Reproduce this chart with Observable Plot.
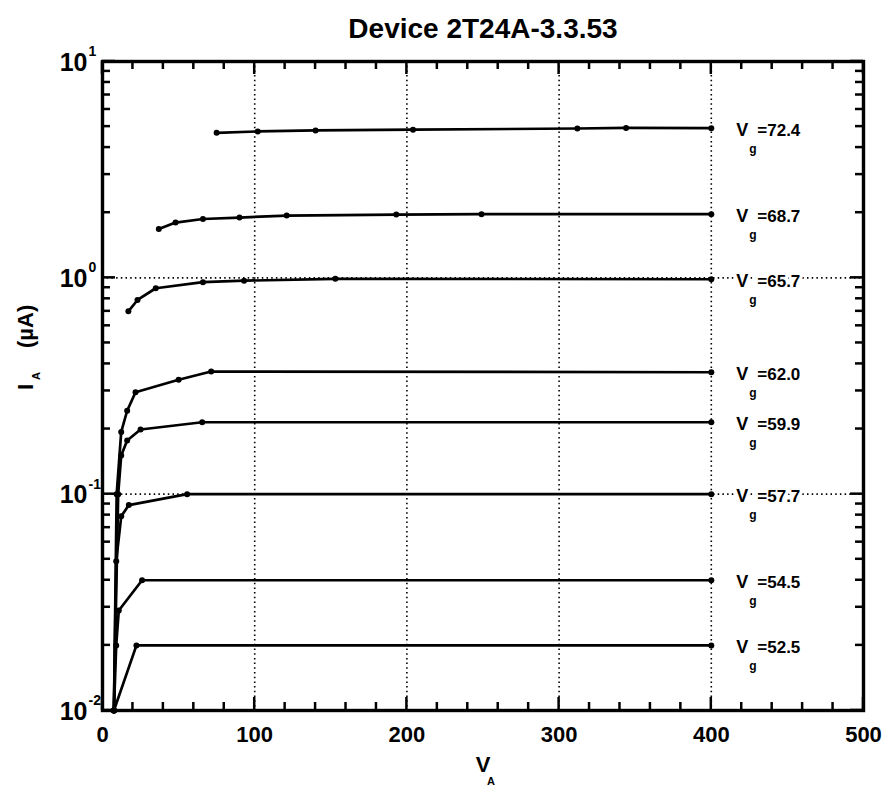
<!DOCTYPE html>
<html><head><meta charset="utf-8">
<script src="https://cdn.jsdelivr.net/npm/d3@7"></script>
<script src="https://cdn.jsdelivr.net/npm/@observablehq/plot@0.6"></script>
<style>
body{margin:0;background:#fff}
#chart svg{font-family:"Liberation Sans",Arial,Helvetica,sans-serif;display:block}
</style>
</head><body><div id="chart"></div>
<script>
const chartTitle = "Device 2T24A-3.3.53";
const gateVoltages = ["72.4","68.7","65.7","62.0","59.9","57.7","54.5","52.5"];
const anodeVoltage = [
  [75,102,140,204,312,344,400],
  [37,48,66,90,121,193,249,400],
  [17,23,35,66,93,153,400],
  [7.5,9.3,12.3,16.2,21.7,50,71.4,400],
  [7.5,10.3,12.3,16.2,25,65.5,400],
  [7.5,9,12.3,17.3,55.6,400],
  [7.5,9,10.7,26,400],
  [7.5,22.3,400]
];
const anodeCurrent = [
  [4.68,4.75,4.8,4.84,4.9,4.93,4.92],
  [1.68,1.8,1.87,1.9,1.94,1.96,1.97,1.97],
  [0.70,0.79,0.895,0.955,0.97,0.99,0.985],
  [0.01,0.1,0.194,0.243,0.296,0.338,0.369,0.366],
  [0.01,0.1,0.151,0.177,0.199,0.215,0.215],
  [0.01,0.049,0.079,0.089,0.1,0.1],
  [0.01,0.02,0.029,0.04,0.04],
  [0.01,0.02,0.02]
];
const xTickValues = [0,100,200,300,400,500];
const xMinorTickValues = [20,40,60,80,120,140,160,180,220,240,260,280,320,340,360,380,420,440,460,480];
const yDecades = [0.01,0.1,1,10];
const yExponents = ["-2","-1","0","1"];
const yMinorTickValues = [0.02,0.03,0.04,0.05,0.06,0.07,0.08,0.09,0.2,0.3,0.4,0.5,0.6,0.7,0.8,0.9,2,3,4,5,6,7,8,9];
const xGridValues = [100,200,300,400];
const yGridValues = [0.1,1];

const rows = gateVoltages.flatMap((vg,i) => anodeVoltage[i].map((va,j) => ({vg, va, ia: anodeCurrent[i][j]})));
const labelRows = gateVoltages.map((vg,i) => ({vg, va: anodeVoltage[i][anodeVoltage[i].length-1], ia: anodeCurrent[i][anodeCurrent[i].length-1]}));

const W = 886, H = 785, mL = 102, mR = 23, mT = 61, mB = 75;
const xDomain = [0,500], yDomain = [0.01,10];
const MAJ = 13, MIN = 8;
const bold = {fontWeight: "bold", fill: "#000"};
const dash = {stroke: "#000", strokeWidth: 1.6, strokeDasharray: "1.5,3.2"};

// inward ticks on all four sides, placed with the plot's own x and y scales
function inwardTicks(index, scales, values, dims) {
  const {x, y} = scales;
  const left = dims.marginLeft, right = dims.width - dims.marginRight;
  const top = dims.marginTop, bottom = dims.height - dims.marginBottom;
  const g = d3.create("svg:g").attr("stroke", "#000").attr("stroke-width", 2.5).attr("fill", "none");
  const add = (x1, y1, x2, y2) => g.append("line").attr("x1", x1).attr("y1", y1).attr("x2", x2).attr("y2", y2);
  for (const [vals, len] of [[xTickValues, MAJ], [xMinorTickValues, MIN]]) {
    for (const v of vals) { const px = x(v); add(px, bottom, px, bottom - len); add(px, top, px, top + len); }
  }
  for (const [vals, len] of [[yDecades, MAJ], [yMinorTickValues, MIN]]) {
    for (const v of vals) { const py = y(v); add(left, py, left + len, py); add(right, py, right - len, py); }
  }
  return g.node();
}

const chart = Plot.plot({
  width: W, height: H,
  marginLeft: mL, marginRight: mR, marginTop: mT, marginBottom: mB,
  x: {domain: xDomain, axis: null},
  y: {type: "log", domain: yDomain, axis: null},
  marks: [
    Plot.ruleX(xGridValues, {x: d => d, ...dash}),
    Plot.ruleY(yGridValues, {y: d => d, ...dash}),
    Plot.line(rows, {x: "va", y: "ia", z: "vg", stroke: "#000", strokeWidth: 2.7}),
    Plot.dot(rows, {x: "va", y: "ia", r: 3, fill: "#000"}),
    Plot.text(labelRows, {x: "va", y: "ia", text: () => "V", dx: 25, dy: 2, textAnchor: "start", fontSize: 18, ...bold, stroke: "#fff", strokeWidth: 6, paintOrder: "stroke"}),
    Plot.text(labelRows, {x: "va", y: "ia", text: () => "g", dx: 38, dy: 21, textAnchor: "start", fontSize: 12, ...bold}),
    Plot.text(labelRows, {x: "va", y: "ia", text: d => "=" + d.vg, dx: 46, dy: 2, textAnchor: "start", fontSize: 17, ...bold, stroke: "#fff", strokeWidth: 6, paintOrder: "stroke"}),
    inwardTicks,
    Plot.frame({stroke: "#000", strokeWidth: 3.4}),
    Plot.axisX(xTickValues, {anchor: "bottom", tickSize: 0, tickPadding: 16, fontSize: 22, fontWeight: "bold", label: null, tickFormat: d => String(d)}),
    Plot.text(yDecades, {y: d => d, frameAnchor: "left", text: () => "10", dx: -15, dy: 1, textAnchor: "end", fontSize: 25, ...bold}),
    Plot.text(yDecades, {y: d => d, frameAnchor: "left", text: (d,i) => yExponents[i], dx: -14, dy: -10, textAnchor: "start", fontSize: 14, ...bold}),
    Plot.text(["V"], {frameAnchor: "bottom", dy: 61, fontSize: 22, ...bold}),
    Plot.text(["A"], {frameAnchor: "bottom", dx: 8, dy: 74, fontSize: 11, ...bold}),
    Plot.text(["I"], {frameAnchor: "left", dx: -77, dy: 4, rotate: -90, fontSize: 22, ...bold}),
    Plot.text(["A"], {frameAnchor: "left", dx: -66, dy: -6, rotate: -90, fontSize: 11, ...bold}),
    Plot.text(["(µA)"], {frameAnchor: "left", dx: -77, dy: -38, rotate: -90, fontSize: 22, ...bold}),
    Plot.text([chartTitle], {frameAnchor: "top", dy: -43, fontSize: 28, ...bold})
  ]
});
document.getElementById("chart").appendChild(chart);
</script>
</body></html>
